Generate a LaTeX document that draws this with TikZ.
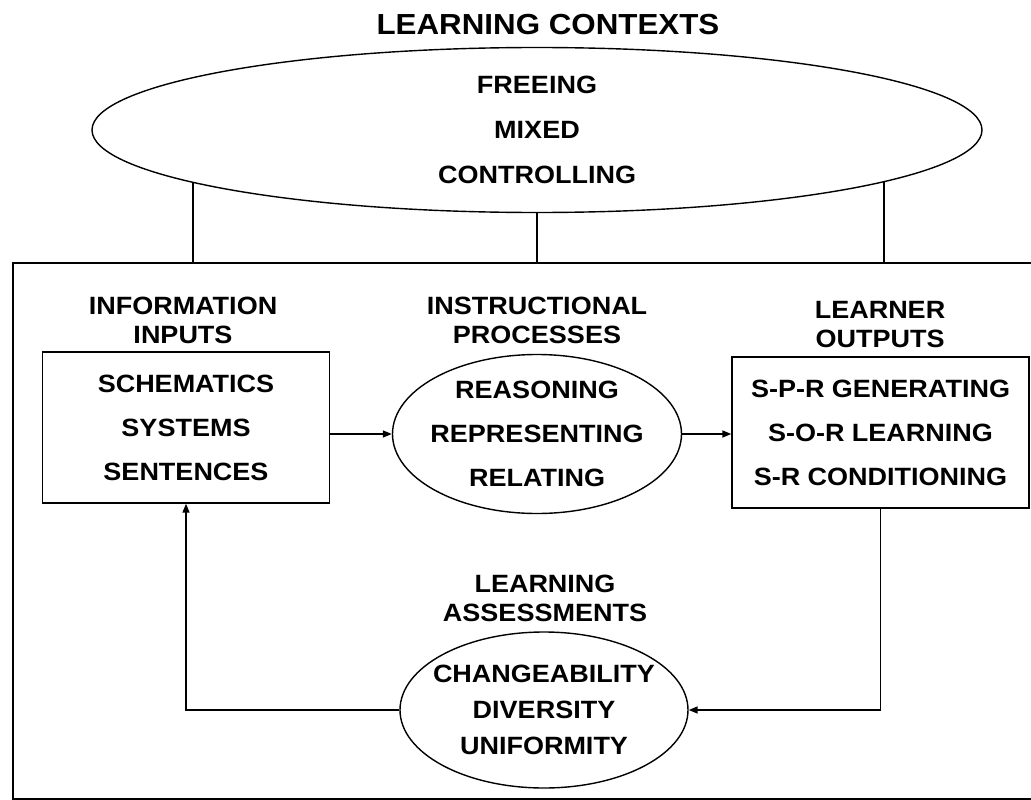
\documentclass[tikz,border=0pt]{standalone}
\usepackage{fontspec}
\setmainfont{Liberation Sans}[FakeStretch=1.08]
\usetikzlibrary{shapes.geometric,arrows.meta}

\begin{document}
\begin{tikzpicture}[x=1pt,y=1pt,yscale=-1,xscale=1,
  inner/.style={font=\bfseries\fontsize{25}{44}\selectfont,align=center},
  head/.style={font=\bfseries\fontsize{25}{29}\selectfont,align=center,inner sep=0pt},
  oval/.style={draw,ellipse,line width=1.4pt,inner xsep=-12pt,inner ysep=0pt},
  panel/.style={draw,rectangle,line width=1.4pt,minimum width=287pt,minimum height=151pt},
  link/.style={line width=1.6pt},
  arr/.style={line width=1.6pt,-{Triangle[length=9pt,width=7pt]}}]
\path[use as bounding box,fill=white] (0,0) rectangle (1031,800);

% Outer frame
\node[draw,line width=1.8pt,minimum width=1045pt,minimum height=536pt,anchor=north west,inner sep=0pt] (frame) at (12,262) {};

% Contexts
\node[head,font=\bfseries\fontsize{29}{33}\selectfont] (ctxtitle) at (548,25) {LEARNING CONTEXTS};
\node[oval,inner,minimum width=890pt,minimum height=165pt,font=\bfseries\fontsize{25}{45}\selectfont] (ctx) at (537,130) {FREEING\\MIXED\\CONTROLLING};
\path (ctx.center) ++(-344,52.3) coordinate (ctxleft);
\path (ctx.center) ++(347,51.7) coordinate (ctxright);

%Straight Lines
\draw[link] (ctxleft) -- (ctxleft |- frame.north);
\draw[link] (ctx.south) -- (ctx.south |- frame.north);
\draw[link] (ctxright) -- (ctxright |- frame.north);

% Text Node
\node[head] (inhead) at (183,320) {INFORMATION\\INPUTS};
\node[head] (prochead) at (537,320) {INSTRUCTIONAL\\PROCESSES};
\node[head] (outhead) at (880,325) {LEARNER\\OUTPUTS};
\node[head] (assesshead) at (545,598) {LEARNING\\ASSESSMENTS};

% Boxes and ovals
\node[panel,inner] (inbox) at (186,427.5) {SCHEMATICS\\SYSTEMS\\SENTENCES};
\node[oval,inner,minimum width=289pt,minimum height=159pt] (procs) at (537,434) {REASONING\\REPRESENTING\\RELATING};
\node[panel,inner,minimum width=297pt] (outbox) at (880.5,432.5) {S-P-R GENERATING\\S-O-R LEARNING\\S-R CONDITIONING};
\node[oval,inner,minimum width=288pt,minimum height=156pt,font=\bfseries\fontsize{25}{36}\selectfont] (assess) at (544,710) {CHANGEABILITY\\DIVERSITY\\UNIFORMITY};

%Arrows
\draw[arr] (inbox.east |- procs.west) -- (procs.west);
\draw[arr] (procs.east) -- (procs.east -| outbox.west);
\draw[arr] (outbox.south) |- (assess.east);
\draw[arr] (assess.west) -| (inbox.south);

\end{tikzpicture}
\end{document}
